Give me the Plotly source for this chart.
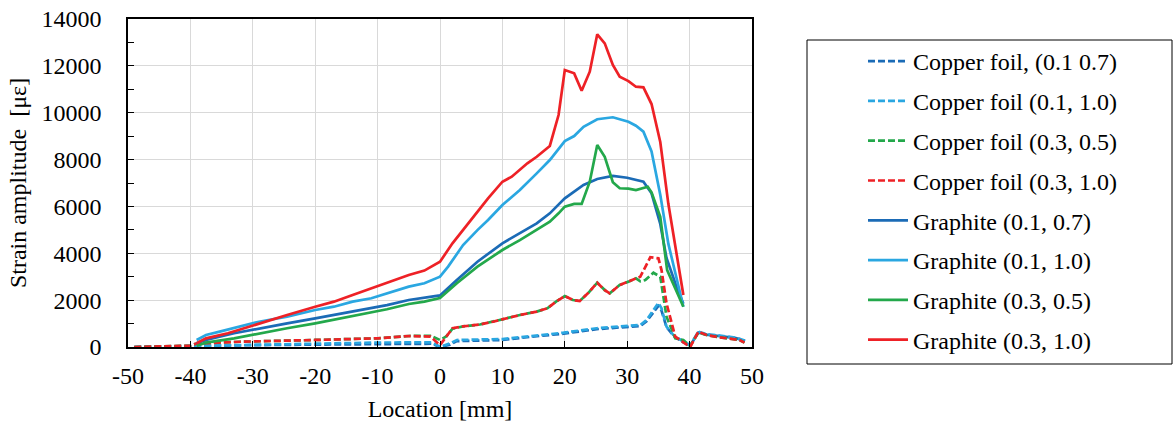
import plotly.graph_objects as go

# ---------------- data ----------------
cu_07_x = [-49, -45, -40, -39, -30, -20, -10, -1.3, 0, 1.6, 2.7, 10, 14.4, 19.8, 25.1, 28.3, 32.1, 33.1, 35, 35.5, 36.3, 37.4, 39, 40.1, 41.4, 42.7, 45.9, 47.4, 48.9]
cu_07_y = [0, 10, 30, 40, 80, 110, 130, 140, 0, 100, 250, 300, 430, 570, 760, 820, 900, 1100, 1750, 1550, 850, 480, 200, 60, 620, 530, 420, 380, 260]

cu_10_x = [-49, -45, -40, -39, -30, -20, -10, -1.3, 0, 1.6, 2.7, 10, 14.4, 19.8, 25.1, 28.3, 32.1, 33.1, 35, 35.5, 36.3, 37.4, 39, 40.1, 41.4, 42.7, 45.9, 47.4, 48.9]
cu_10_y = [0, 20, 50, 60, 115, 170, 190, 200, 0, 155, 300, 340, 470, 610, 800, 865, 940, 1150, 1880, 1650, 865, 510, 225, 85, 655, 555, 440, 400, 270]

cu_35_x = [-49, -45, -40, -39, -32, -20, -10, -5, -1.5, 0, 1, 2, 3.7, 6.4, 8.5, 10, 12.8, 15.5, 17.2, 18.6, 20, 21.3, 22.4, 23.7, 25.2, 26.4, 27.2, 28.8, 30.2, 31.4, 32.1, 32.9, 34.2, 35.3, 36.3, 37.7, 39, 40.1, 41.4, 42.7, 44.9, 46.3, 48, 48.8]
cu_35_y = [0, 20, 60, 150, 225, 300, 370, 470, 480, 300, 450, 780, 880, 960, 1080, 1180, 1365, 1510, 1650, 1935, 2175, 2005, 1965, 2290, 2745, 2430, 2290, 2645, 2790, 2930, 2800, 2860, 3170, 3000, 1295, 370, 300, 40, 620, 510, 410, 370, 300, 185]

cu_31_x = [-49, -45, -40, -39, -32, -20, -10, -5, -1.5, 0, 2, 3.7, 6.4, 8.5, 10, 12.8, 15.5, 17.2, 18.6, 20, 21.3, 22.4, 23.7, 25.2, 26.4, 27.2, 28.8, 30.2, 31.4, 32.1, 33.7, 35.0, 35.5, 36.3, 37.7, 39.3, 40.1, 41.4, 42.7, 44.9, 46.3, 48, 48.8]
cu_31_y = [0, 20, 60, 150, 225, 300, 370, 470, 440, 80, 800, 880, 960, 1080, 1180, 1365, 1510, 1650, 1935, 2175, 2005, 1965, 2290, 2745, 2430, 2290, 2645, 2790, 2930, 3000, 3830, 3785, 3285, 1865, 440, 160, 0, 655, 510, 410, 370, 300, 185]

gr_07_x = [-39, -37.5, -33, -29, -24.5, -20, -14, -8.5, -5, -2.5, 0, 2.7, 6, 10, 12.8, 15.5, 17.6, 20, 23, 25.2, 27.7, 30, 32.6, 33.9, 35.3, 36.3, 37.9, 39]
gr_07_y = [160, 300, 585, 800, 1010, 1225, 1510, 1790, 2005, 2105, 2200, 2860, 3640, 4425, 4855, 5280, 5705, 6345, 6915, 7170, 7300, 7225, 7055, 6560, 5250, 3800, 2575, 1850]

gr_10_x = [-39, -37.5, -35.3, -32, -29, -24.5, -20, -17, -14, -11, -8.5, -5, -2.5, 0, 1.3, 2.7, 3.7, 6, 7.7, 10, 12.8, 15.5, 17.6, 20, 21.5, 23, 25.2, 27.7, 30.2, 31.4, 32.6, 33.9, 35.3, 36.6, 39]
gr_10_y = [300, 510, 655, 865, 1080, 1295, 1580, 1720, 1935, 2080, 2290, 2575, 2720, 3000, 3430, 4000, 4350, 4990, 5420, 6060, 6700, 7410, 7980, 8790, 9005, 9400, 9720, 9805, 9615, 9445, 9190, 8350, 6500, 4400, 1720]

gr_35_x = [-39, -37.5, -33, -29, -24.5, -20, -14, -8.5, -5, -2.5, 0, 2.7, 6, 10, 12.8, 15.5, 17.6, 19, 20, 21.5, 22.7, 24, 25.2, 26.4, 27.7, 28.8, 30.2, 31.4, 32.6, 33.3, 33.9, 35.3, 36.4, 39]
gr_35_y = [55, 185, 370, 585, 800, 1010, 1325, 1610, 1835, 1935, 2090, 2720, 3430, 4140, 4565, 4990, 5350, 5705, 5990, 6105, 6105, 7055, 8620, 8120, 7035, 6775, 6760, 6700, 6800, 6840, 6600, 5560, 3285, 1720]

gr_31_x = [-39, -37.5, -34, -29, -24.5, -20, -17, -14, -8.5, -5, -2.5, 0, 2, 3.7, 6, 7.7, 10, 11.5, 14, 15.5, 17.6, 19, 20, 21.5, 22.7, 24, 25.2, 26.4, 27.7, 28.8, 30.2, 31.4, 32.6, 33.9, 35.3, 36.6, 39]
gr_31_y = [160, 370, 585, 1010, 1365, 1720, 1935, 2220, 2720, 3070, 3260, 3640, 4425, 4990, 5775, 6345, 7055, 7270, 7840, 8120, 8580, 9900, 11820, 11680, 10940, 11750, 13345, 12960, 12035, 11535, 11350, 11110, 11085, 10370, 8750, 6100, 2220]

x_ticks = [-50, -40, -30, -20, -10, 0, 10, 20, 30, 40, 50]
y_ticks = [0, 2000, 4000, 6000, 8000, 10000, 12000, 14000]

series = [
    ("Copper foil, (0.1 0.7)", cu_07_x, cu_07_y, "#1B6BB6", "dash"),
    ("Copper foil (0.1, 1.0)", cu_10_x, cu_10_y, "#2AA7E1", "dash"),
    ("Copper foil (0.3, 0.5)", cu_35_x, cu_35_y, "#23A84B", "dash"),
    ("Copper foil (0.3, 1.0)", cu_31_x, cu_31_y, "#EE2126", "dash"),
    ("Graphite (0.1, 0.7)", gr_07_x, gr_07_y, "#1B6BB6", "solid"),
    ("Graphite (0.1, 1.0)", gr_10_x, gr_10_y, "#2AA7E1", "solid"),
    ("Graphite (0.3, 0.5)", gr_35_x, gr_35_y, "#23A84B", "solid"),
    ("Graphite (0.3, 1.0)", gr_31_x, gr_31_y, "#EE2126", "solid"),
]

FONT = "Liberation Serif"
FS = 24

fig = go.Figure()
for i, (name, xs, ys, col, dash) in enumerate(series):
    fig.add_trace(go.Scatter(
        x=xs, y=ys, name=name, mode="lines",
        line=dict(color=col, width=2.7, dash=("7px,3px" if dash == "dash" else "solid")),
        legendgroup=f"g{i}",
    ))

W, H = 1173, 425
L, R, T, B = 128, W - 752, 19, H - 347
pw, ph = W - L - R, H - T - B

def px2paper_x(px):
    return (px - L) / pw

def px2paper_y(py):
    return (H - B - py) / ph

fig.update_layout(
    width=W, height=H,
    margin=dict(l=L, r=R, t=T, b=B, autoexpand=False),
    paper_bgcolor="white", plot_bgcolor="white",
    font=dict(family=FONT, size=FS, color="black"),
    showlegend=True,
    legend=dict(
        x=px2paper_x(863), y=px2paper_y(39), xanchor="left", yanchor="top",
        bgcolor="rgba(0,0,0,0)", borderwidth=0,
        font=dict(family=FONT, size=FS, color="black"),
        traceorder="grouped", tracegroupgap=5.6,
        itemwidth=40,
    ),
    shapes=[dict(
        type="rect", xref="paper", yref="paper",
        x0=px2paper_x(807), x1=px2paper_x(1172),
        y0=px2paper_y(364), y1=px2paper_y(40),
        line=dict(color="black", width=1), fillcolor="rgba(0,0,0,0)", layer="above",
    )],
)

fig.update_xaxes(
    range=[-50, 50], tickvals=x_ticks, ticktext=[str(v) for v in x_ticks],
    showgrid=True, gridcolor="#D9D9D9", gridwidth=1,
    showline=True, linecolor="black", linewidth=1.5, mirror=True,
    ticks="inside", ticklen=6, tickcolor="black", tickwidth=1.2,
    ticklabelstandoff=6,
    zeroline=False,
    title=dict(text="Location [mm]", font=dict(family=FONT, size=FS), standoff=13),
)
fig.update_yaxes(
    range=[0, 14000], tickvals=y_ticks, ticktext=[str(v) for v in y_ticks],
    showgrid=True, gridcolor="#D9D9D9", gridwidth=1,
    showline=True, linecolor="black", linewidth=1.5, mirror=True,
    ticks="inside", ticklen=6, tickcolor="black", tickwidth=1.2,
    minor=dict(tickvals=[1000, 3000, 5000, 7000, 9000, 11000, 13000], ticks="inside", ticklen=6, tickcolor="black", showgrid=False),
    ticklabelstandoff=20,
    zeroline=False,
    title=dict(text="Strain amplitude  [με]", font=dict(family=FONT, size=FS), standoff=8),
)

fig.write_html("out.html")
